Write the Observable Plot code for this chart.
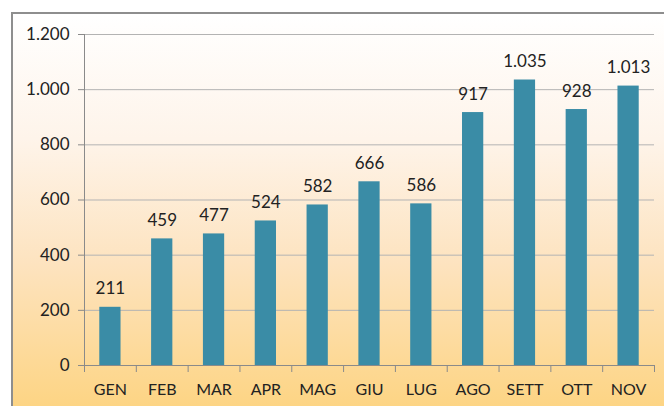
<!DOCTYPE html>
<html><head><meta charset="utf-8">
<script src="https://cdn.jsdelivr.net/npm/d3@7"></script>
<script src="https://cdn.jsdelivr.net/npm/@observablehq/plot@0.6"></script>
<style>
html,body{margin:0;padding:0;width:664px;height:406px;overflow:hidden;background:#fff;}
#frame{position:absolute;left:11px;top:12px;width:680px;height:420px;box-sizing:border-box;border:2px solid #8e8e8e;
background:linear-gradient(to bottom,#ffffff 0%,#fef4ea 30%,#fde3bf 60%,#fdd27a 100%);}
#chart{position:absolute;left:0;top:0;}
</style></head>
<body><div id="frame"></div><div id="chart"></div>
<script>
const months = ["GEN","FEB","MAR","APR","MAG","GIU","LUG","AGO","SETT","OTT","NOV"];
const values = [211,459,477,524,582,666,586,917,1035,928,1013];
const yTicks = [0,200,400,600,800,1000,1200];

const data = months.map((m,i)=>({month:m,value:values[i]}));
const fmt = d => d3.format(",")(d).replace(/,/g,".");
const W = 664, H = 406, ML = 84, MR = 10, MT = 34, MB = 41;
const pad = 0.59;
const step = (W-ML-MR)/months.length;
const perPx = 1200/(H-MT-MB);
const below = -7*perPx; // 7px below zero line, in data units
const axisColor = "#8a8a8a";

const plot = Plot.plot({
  width: W, height: H,
  marginLeft: ML, marginRight: MR, marginTop: MT, marginBottom: MB,
  style: {background:"transparent", fontFamily:"Lato, 'Open Sans', sans-serif", fontSize:"16px", color:"#222"},
  x: {domain: months, paddingInner: pad, paddingOuter: pad/2, round: false, label: null},
  y: {domain: [0,1200], ticks: yTicks, label: null},
  marks: [
    Plot.ruleY(yTicks.filter(d=>d>0), {stroke:"#b3b3b3", strokeWidth:1}),
    Plot.barY(data, {x:"month", y:"value", fill:"#3a8ca6"}),
    Plot.ruleY([0], {stroke: axisColor}),
    Plot.ruleX(months, {x: d=>d, dx: -step/2, y1: below, y2: 0, stroke: axisColor}),
    Plot.ruleX(months.slice(-1), {x: d=>d, dx: step/2, y1: below, y2: 0, stroke: axisColor}),
    Plot.ruleX(months.slice(0,1), {x: d=>d, dx: -step/2, y1: below, y2: 1200, stroke: axisColor}),
    Plot.text(data, {x:"month", y:"value", text: d=>fmt(d.value), lineAnchor:"bottom", dy:-13, fill:"#222", fontSize:17}),
    Plot.axisY({ticks: yTicks, tickFormat: fmt, tickSize: 6, tickPadding: 9, stroke: axisColor, fontSize:17, color:"#222"}),
    Plot.axisX({tickSize: 0, tickPadding: 18, fontSize:16}),
  ]
});
document.getElementById("chart").appendChild(plot);
</script></body></html>
